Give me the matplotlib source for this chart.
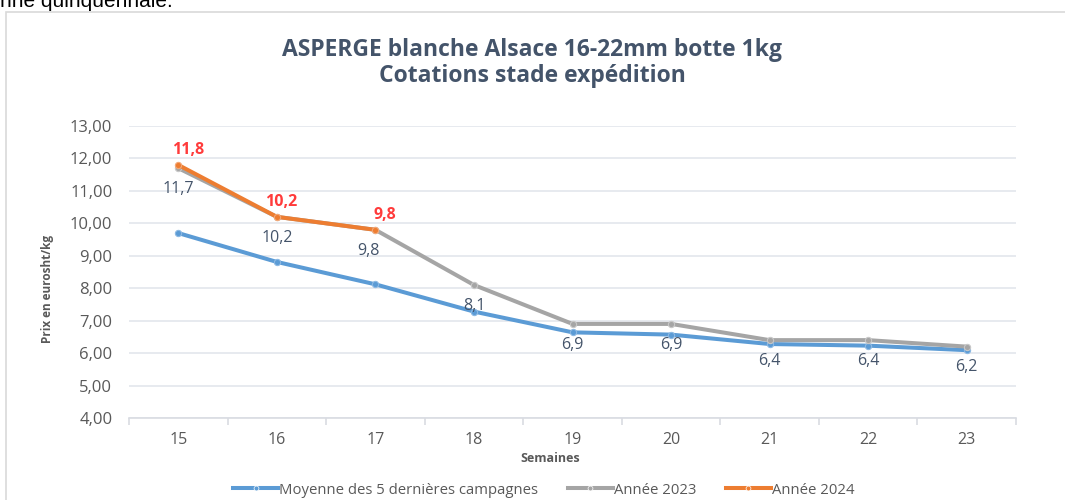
import matplotlib
matplotlib.use('Agg')
from matplotlib import pyplot as plt
from matplotlib.lines import Line2D
from matplotlib.patches import Rectangle

matplotlib.rcParams.update({'font.family': ['Open Sans', 'DejaVu Sans']})

weeks      = ['15', '16', '17', '18', '19', '20', '21', '22', '23']
moyenne    = [9.70, 8.81, 8.12, 7.28, 6.64, 6.57, 6.28, 6.23, 6.09]
annee2023  = [11.7, 10.2, 9.8, 8.1, 6.9, 6.9, 6.4, 6.4, 6.2]
annee2024  = [11.8, 10.2, 9.8]
yticks     = [4, 5, 6, 7, 8, 9, 10, 11, 12, 13]

BLUE   = '#5B9BD5'
GRAY   = '#A5A5A5'
ORANGE = '#ED7D31'
TXT    = '#44546A'

W, H = 1065, 500
fig = plt.figure(figsize=(W / 100, H / 100), dpi=100)

# chart frame (light border, cut off on right / bottom)
fig.patches.append(Rectangle((6 / W, -0.1), 1.2, 1 - 12 / H + 0.1, transform=fig.transFigure,
                             fill=False, edgecolor='#D9D9D9', lw=1.2))
fig.text(0, 1 - 7 / H, 'nne quinquennale.', fontsize=15, va='baseline', ha='left',
         color='black', family=['Liberation Sans', 'DejaVu Sans'])

ax = fig.add_axes([129 / W, 1 - 418 / H, (1016 - 129) / W, (418 - 126) / H])

x = list(range(len(weeks)))
ax.plot(x, moyenne, color=BLUE, lw=2.9, marker='o', ms=4.5, mfc=BLUE, mec='#8DB9E3', mew=0.8,
        solid_capstyle='round', zorder=3)
ax.plot(x, annee2023, color=GRAY, lw=2.9, marker='o', ms=4.5, mfc=GRAY, mec='#C8C8C8', mew=0.8,
        solid_capstyle='round', zorder=4)
ax.plot(x[:len(annee2024)], annee2024, color=ORANGE, lw=2.9, marker='o', ms=4.5, mfc=ORANGE,
        mec='#F3A877', mew=0.8, solid_capstyle='round', zorder=5)

for i, v in enumerate(annee2023):
    ax.annotate(f'{v:.1f}'.replace('.', ','), (i, v), xytext=(-5 if i == 2 else 0, -15),
                textcoords='offset points', ha='center', va='center', fontsize=11.5, color=TXT, zorder=6)
for i, v in enumerate(annee2024):
    ax.annotate(f'{v:.1f}'.replace('.', ','), (i, v), xytext=(7 if i != 1 else 3, 11),
                textcoords='offset points', ha='center', va='center', fontsize=11.5,
                color='#FF3B3B', fontweight='bold', zorder=6)

ax.set_xlim(-0.5, len(weeks) - 0.5)
ax.set_ylim(4, 13)
ax.set_yticks(yticks)
ax.set_yticklabels([f'{t:.2f}'.replace('.', ',') for t in yticks])
ax.set_xticks(x)
ax.set_xticklabels(weeks)
ax.set_xticks([i - 0.5 for i in range(len(weeks) + 1)], minor=True)
ax.grid(axis='y', color='#E3E6EC', lw=1.2)
ax.set_axisbelow(True)
for s in ['top', 'right', 'left']:
    ax.spines[s].set_visible(False)
ax.spines['bottom'].set_color('#D9DCE2')
ax.spines['bottom'].set_linewidth(1.2)
ax.tick_params(axis='y', length=0, pad=12, labelsize=12, labelcolor='#595959')
ax.tick_params(axis='x', which='major', length=0, pad=10, labelsize=11.5, labelcolor='#595959')
ax.tick_params(axis='x', which='minor', length=5, color='#D9DCE2', width=1.2)

fig.text(532 / W, 1 - 50 / H, 'ASPERGE blanche Alsace 16-22mm botte 1kg', ha='center', va='center',
         fontsize=16.5, fontweight='bold', color=TXT)
fig.text(532 / W, 1 - 76 / H, 'Cotations stade expédition', ha='center', va='center',
         fontsize=16.5, fontweight='bold', color=TXT)
fig.text(47 / W, 1 - 289 / H, 'Prix en eurosht/kg', rotation=90, ha='center', va='center',
         fontsize=8.5, fontweight='bold', color='#595959')
fig.text(550 / W, 1 - 459 / H, 'Semaines', ha='center', va='center', fontsize=9,
         fontweight='bold', color='#595959')

handles = [Line2D([0], [0], color=c, lw=2.9, marker='o', ms=3.5, mfc=c, mec='white', mew=0.5)
           for c in [BLUE, GRAY, ORANGE]]
fig.legend(handles, ['Moyenne des 5 dernières campagnes', 'Année 2023', 'Année 2024'],
           loc='center', bbox_to_anchor=(544 / W, 1 - 490 / H), ncol=3, frameon=False,
           fontsize=10.7, handlelength=3.0, handletextpad=0.1, columnspacing=2.0,
           labelcolor='#595959', borderaxespad=0)

fig.savefig('out.png', dpi=100)
